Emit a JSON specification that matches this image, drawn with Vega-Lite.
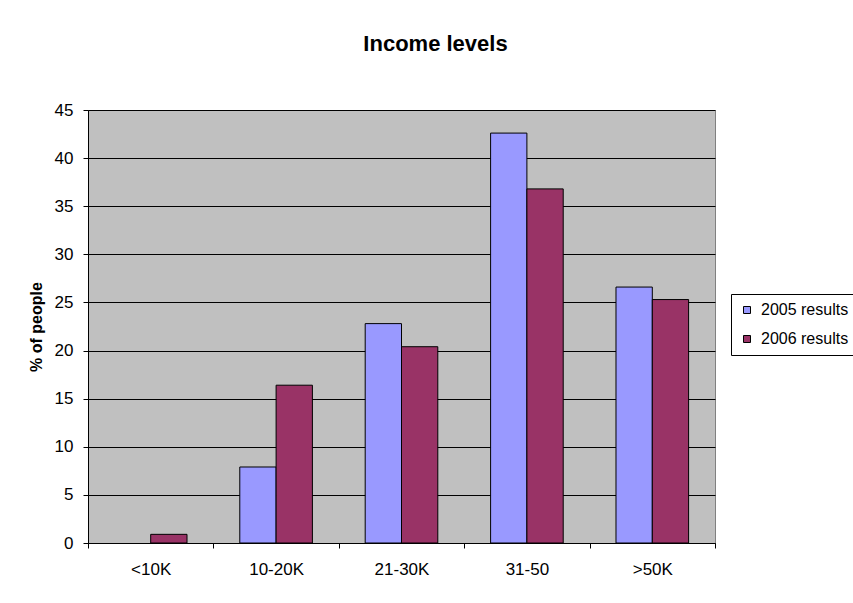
{
  "$schema": "https://vega.github.io/schema/vega-lite/v6.json",
  "autosize": "none",
  "width": 627,
  "height": 433,
  "padding": {"left": 88, "top": 110, "right": 138, "bottom": 60},
  "background": "white",
  "title": {
    "text": "Income levels",
    "font": "Liberation Sans",
    "fontSize": 22,
    "fontWeight": "bold",
    "color": "black",
    "anchor": "middle",
    "dx": 34,
    "offset": 45
  },
  "data": {
    "values": [
      {"income": "<10K", "series": "2005 results", "pct": null},
      {"income": "<10K", "series": "2006 results", "pct": 0.9},
      {"income": "10-20K", "series": "2005 results", "pct": 7.9},
      {"income": "10-20K", "series": "2006 results", "pct": 16.4},
      {"income": "21-30K", "series": "2005 results", "pct": 22.8},
      {"income": "21-30K", "series": "2006 results", "pct": 20.4},
      {"income": "31-50", "series": "2005 results", "pct": 42.6},
      {"income": "31-50", "series": "2006 results", "pct": 36.8},
      {"income": ">50K", "series": "2005 results", "pct": 26.6},
      {"income": ">50K", "series": "2006 results", "pct": 25.3}
    ]
  },
  "mark": {"type": "bar", "stroke": "black", "strokeWidth": 1},
  "encoding": {
    "x": {
      "field": "income",
      "type": "nominal",
      "sort": ["<10K", "10-20K", "21-30K", "31-50", ">50K"],
      "scale": {"paddingInner": 0, "paddingOuter": 0},
      "axis": {
        "title": null,
        "labelAngle": 0,
        "tickBand": "extent",
        "tickSize": 5,
        "tickColor": "black",
        "domainColor": "black",
        "labelPadding": 13,
        "labelFontSize": 17,
        "labelFont": "Liberation Sans",
        "labelColor": "black",
        "grid": false
      }
    },
    "xOffset": {
      "field": "series",
      "type": "nominal",
      "scale": {"domain": ["2005 results", "2006 results"], "paddingInner": 0, "paddingOuter": 0.727}
    },
    "y": {
      "field": "pct",
      "type": "quantitative",
      "scale": {"domain": [0, 45], "nice": false},
      "axis": {
        "title": "% of people",
        "titleFont": "Liberation Sans",
        "titleFontSize": 16,
        "titleFontWeight": "bold",
        "titleColor": "black",
        "titlePadding": 10,
        "values": [0, 5, 10, 15, 20, 25, 30, 35, 40, 45],
        "tickSize": 5,
        "tickColor": "black",
        "domainColor": "black",
        "labelPadding": 10,
        "labelFontSize": 17,
        "labelFont": "Liberation Sans",
        "labelColor": "black",
        "grid": true,
        "gridColor": "black",
        "gridWidth": 1,
        "gridOpacity": 1
      }
    },
    "color": {
      "field": "series",
      "type": "nominal",
      "scale": {"domain": ["2005 results", "2006 results"], "range": ["#9999FF", "#993366"]},
      "legend": {
        "title": null,
        "orient": "none",
        "legendX": 643,
        "legendY": 184,
        "strokeColor": "black",
        "fillColor": "white",
        "padding": 8,
        "labelFont": "Liberation Sans",
        "labelFontSize": 16,
        "labelColor": "black",
        "labelOffset": 6,
        "symbolType": "square",
        "symbolSize": 49,
        "symbolStrokeColor": "black",
        "symbolStrokeWidth": 1,
        "symbolOpacity": 1,
        "rowPadding": 13
      }
    }
  },
  "config": {
    "view": {"fill": "#C0C0C0", "stroke": "#808080", "strokeWidth": 1},
    "legend": {"cornerRadius": 0}
  }
}
